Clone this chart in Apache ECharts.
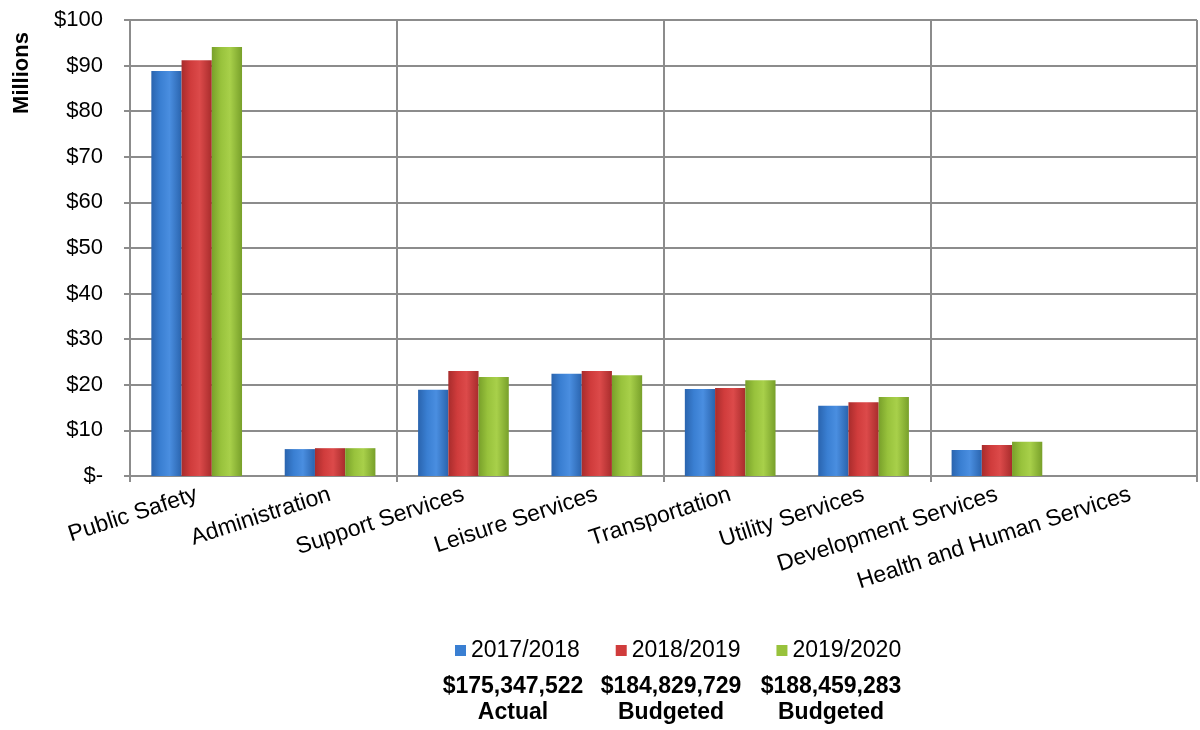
<!DOCTYPE html>
<html>
<head>
<meta charset="utf-8">
<title>Expenditures by Function</title>
<script src="https://cdn.jsdelivr.net/npm/echarts@6/dist/echarts.min.js"></script>
<style>
  html, body { margin: 0; padding: 0; background: #fff; }
  #chart { width: 1200px; height: 730px; }
</style>
</head>
<body>
<div id="chart"></div>
<script>
// categories and values (millions)
const categories = ['Public Safety', 'Administration', 'Support Services', 'Leisure Services',
  'Transportation', 'Utility Services', 'Development Services', 'Health and Human Services'];
const years = ['2017/2018', '2018/2019', '2019/2020'];
const fy2018 = [88.8, 5.9, 18.9, 22.4, 19.1, 15.4, 5.7, 0];
const fy2019 = [91.2, 6.1, 23.0, 23.0, 19.3, 16.2, 6.8, 0];
const fy2020 = [94.1, 6.1, 21.7, 22.1, 21.0, 17.3, 7.5, 0];
const totals = ['$175,347,522', '$184,829,729', '$188,459,283'];
const totalTypes = ['Actual', 'Budgeted', 'Budgeted'];

const chart = echarts.init(document.getElementById('chart'));
const FONT = '"Liberation Sans", Arial, sans-serif';

// 柱子的立体渐变
function bevel(dark, mid, light) {
  return new echarts.graphic.LinearGradient(0, 0, 1, 0, [
    { offset: 0, color: dark },
    { offset: 0.3, color: mid },
    { offset: 0.6, color: light },
    { offset: 1, color: dark }
  ]);
}
const colors = [
  bevel('#2a64ae', '#3a7fd2', '#4a8ee0'),
  bevel('#a82c2c', '#d03c3c', '#dc4a4a'),
  bevel('#78a02a', '#98c23c', '#a8d04a')
];
const legendColors = ['#3a7fd2', '#d03c3c', '#98c23c'];
const seriesValues = [fy2018, fy2019, fy2020];

// 每隔一个分类画一条竖线
const everyOther = (index) => index % 2 === 0;

const totalX = [513, 671, 831];
const graphics = [{
  type: 'text',
  x: 22, y: 73,
  rotation: Math.PI / 2,
  style: { text: 'Millions', font: 'bold 22px ' + FONT,
    fill: '#000', align: 'center', verticalAlign: 'middle' }
}];
totals.forEach((t, i) => {
  graphics.push({
    type: 'text', x: totalX[i], y: 687,
    style: { text: t, font: 'bold 23px ' + FONT,
      fill: '#000', align: 'center', verticalAlign: 'middle' }
  });
  graphics.push({
    type: 'text', x: totalX[i], y: 713,
    style: { text: totalTypes[i], font: 'bold 23px ' + FONT,
      fill: '#000', align: 'center', verticalAlign: 'middle' }
  });
});

const option = {
  animation: false,
  textStyle: { fontFamily: FONT },
  grid: { left: 130, right: 3, top: 20, bottom: 254 },
  legend: {
    data: years.map((y, i) => ({ name: y, itemStyle: { color: legendColors[i] } })),
    left: 450, top: 634,
    icon: 'rect', itemWidth: 11, itemHeight: 11, itemGap: 36,
    textStyle: { fontSize: 23, color: '#000' }
  },
  xAxis: {
    type: 'category',
    data: categories,
    axisLine: { lineStyle: { color: '#8c8c8c', width: 2 } },
    axisTick: { show: true, interval: everyOther, length: 6, lineStyle: { color: '#8c8c8c', width: 2 } },
    splitLine: { show: true, interval: everyOther, lineStyle: { color: '#8c8c8c', width: 2 } },
    axisLabel: { interval: 0, rotate: 18, fontSize: 23, color: '#000', margin: 18 }
  },
  yAxis: {
    type: 'value',
    min: 0, max: 100, interval: 10,
    axisLine: { show: true, lineStyle: { color: '#8c8c8c', width: 2 } },
    axisTick: { show: true, length: 6, lineStyle: { color: '#8c8c8c', width: 2 } },
    splitLine: { lineStyle: { color: '#8c8c8c', width: 2 } },
    axisLabel: {
      fontSize: 22, color: '#000', margin: 27,
      formatter: v => v === 0 ? '$-' : '$' + v
    }
  },
  series: years.map((y, i) => ({
    name: y,
    type: 'bar',
    data: seriesValues[i],
    barGap: 0,
    barCategoryGap: '32%',
    itemStyle: { color: colors[i] }
  })),
  graphic: graphics
};

chart.setOption(option);
</script>
</body>
</html>
